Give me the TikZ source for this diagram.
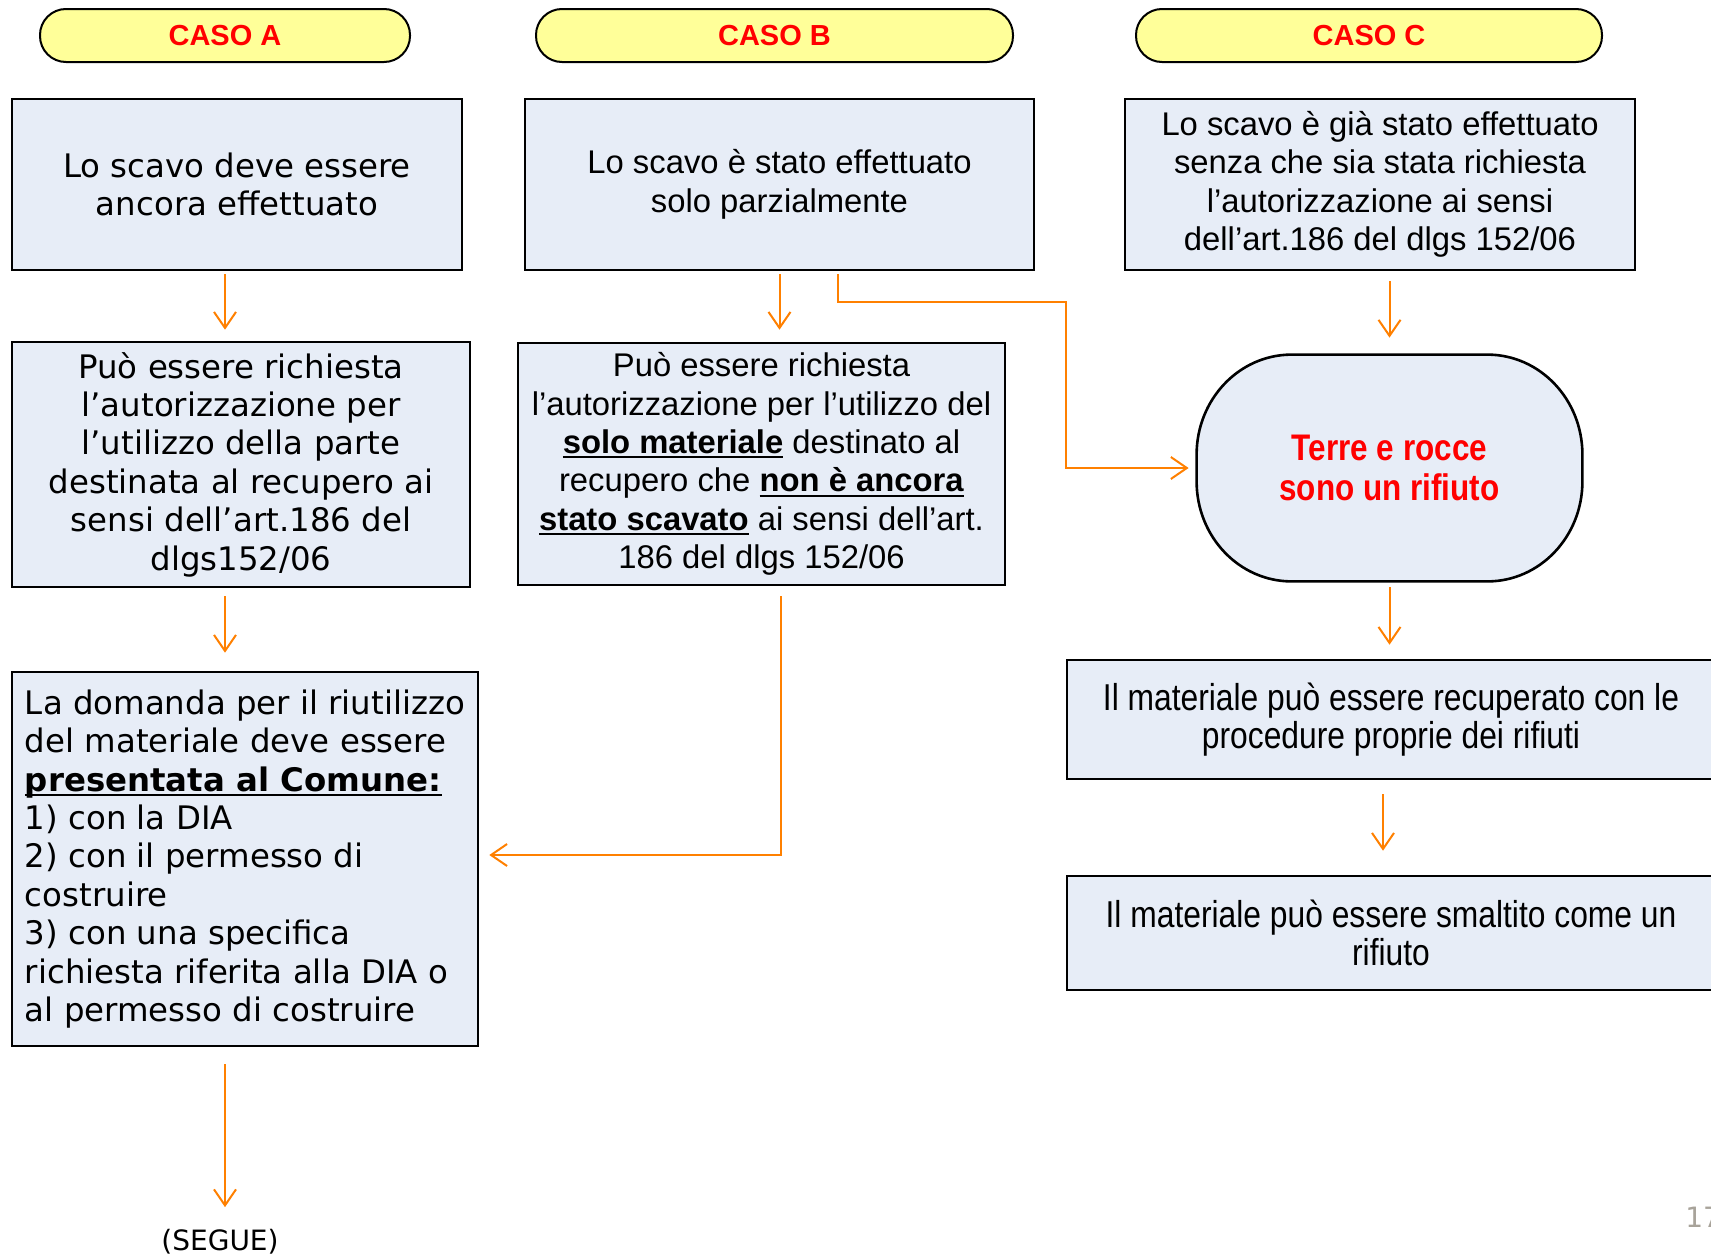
\documentclass[tikz,border=0pt]{standalone}
\usepackage{fontspec}
\usepackage{xcolor}
\usepackage{tikz}
\usetikzlibrary{arrows.meta}
\setmainfont{Liberation Sans}
\newfontfamily\verdana{DejaVu Sans}
\newfontfamily\stretto[FakeStretch=0.85]{Liberation Sans}
\definecolor{azzurrino}{RGB}{231,237,247}
\definecolor{giallino}{RGB}{255,255,153}
\definecolor{arancio}{RGB}{255,128,0}
\definecolor{grigio}{RGB}{168,163,154}
\newsavebox{\sottbox}
\newcommand{\sott}[1]{\leavevmode\sbox{\sottbox}{\textbf{#1}}\rlap{\rule[-2.4pt]{\wd\sottbox}{1pt}}\usebox{\sottbox}}
\tikzset{
  casella/.style = {draw=black, line width=1.3pt, fill=azzurrino, inner sep=0pt,
    align=center, font=\fontsize{16.4}{19.2}\selectfont},% casella di testo
  casA/.style = {casella, font=\verdana\fontsize{16.2}{19.2}\selectfont},% colonna A, testo largo
  casC/.style = {casella, font=\stretto\fontsize{18.7}{19.2}\selectfont},% colonna C, testo stretto
  caso/.style = {draw=black, line width=1pt, fill=giallino, rounded corners=13pt,
    minimum height=26.5pt, inner sep=0pt, text=red,
    font=\bfseries\fontsize{14.5}{17}\selectfont},% intestazione del caso
  terminale/.style = {minimum width=192.5pt, minimum height=113pt, inner sep=0pt},% rifiuto
  freccia/.style = {draw=arancio, line width=1pt, -{Straight Barb[length=8pt,width=11pt]}}% connettore
}
\begin{document}
\begin{tikzpicture}[x=0.5pt, y=-0.5pt]
\path[use as bounding box, fill=white] (0,0) rectangle (1711,1258);
% intestazioni
\node[caso, minimum width=185pt] (casoA) at (225,35.5) {CASO A};
\node[caso, minimum width=238.5pt] (casoB) at (774.5,35.5) {CASO B};
\node[caso, minimum width=233pt] (casoC) at (1369,35.5) {CASO C};
% caso A
\node[casA, minimum width=225pt, minimum height=85.5pt] (a1) at (237,184.5)
  {Lo scavo deve essere\\ancora effettuato};
\node[casA, minimum width=229pt, minimum height=122.5pt] (a2) at (241,464.5)
  {Può essere richiesta\\l’autorizzazione per\\l’utilizzo della parte\\destinata al recupero ai\\sensi dell’art.186 del\\dlgs152/06};
\node[casA, minimum width=233pt, minimum height=187pt, align=left] (a3) at (245,859)
  {La domanda per il riutilizzo\hspace{5pt}\\del materiale deve essere\\\sott{presentata al Comune:}\\1) con la DIA\\2) con il permesso di\\costruire\\3) con una specifica\\richiesta riferita alla DIA o\\al permesso di costruire};
\node[font=\verdana\fontsize{14}{16}\selectfont, inner sep=0pt] (segue) at (220,1242) {(SEGUE)};
% caso B
\node[casella, minimum width=254.5pt, minimum height=85.5pt] (b1) at (779.5,184.5)
  {Lo scavo è stato effettuato\\solo parzialmente};
\node[casella, minimum width=243.5pt, minimum height=121pt] (b2) at (761.5,464)
  {Può essere richiesta\\l’autorizzazione per l’utilizzo del\\\sott{solo materiale} destinato al\\recupero che \sott{non è ancora}\\\sott{stato scavato} ai sensi dell’art.\\186 del dlgs 152/06};
% caso C
\node[casella, minimum width=255pt, minimum height=85.5pt] (c1) at (1380,184.5)
  {Lo scavo è già stato effettuato\\senza che sia stata richiesta\\l’autorizzazione ai sensi\\dell’art.186 del dlgs 152/06};
\node[terminale] (c2) at (1389.5,468) {};
\draw[line width=1.3pt, fill=azzurrino] ([xshift=47.5pt]c2.north west)
  -- ([xshift=-47.5pt]c2.north east) arc[start angle=90, end angle=0, x radius=47.5pt, y radius=50pt]
  -- ([yshift=50pt]c2.south east) arc[start angle=0, end angle=-90, x radius=47.5pt, y radius=50pt]
  -- ([xshift=47.5pt]c2.south west) arc[start angle=270, end angle=180, x radius=47.5pt, y radius=50pt]
  -- ([yshift=-50pt]c2.north west) arc[start angle=180, end angle=90, x radius=47.5pt, y radius=50pt]
  -- cycle;
\node[align=center, text=red, font=\stretto\bfseries\fontsize{18.5}{19.6}\selectfont] (c2testo) at (c2)
  {Terre e rocce\\sono un rifiuto};
\node[casC, minimum width=324pt, minimum height=59.5pt] (c3) at (1391,719.5)
  {Il materiale può essere recuperato con le\\procedure proprie dei rifiuti};
\node[casC, minimum width=324pt, minimum height=57pt] (c4) at (1391,933)
  {Il materiale può essere smaltito come un\\rifiuto};
\node[anchor=west, text=grigio, font=\verdana\fontsize{14}{16}\selectfont, inner sep=0pt] (pagina) at (1685,1217) {17};
% connettori
\coordinate (gomito) at (1066,302);
\draw[freccia, shorten <=1.5pt, shorten >=5.5pt] (a1.south -| casoA.south) -- (a2.north -| casoA.south);
\draw[freccia, shorten <=4pt, shorten >=9pt] (a2.south -| casoA.south) -- (a3.north -| casoA.south);
\draw[freccia, shorten <=8.5pt, shorten >=11pt] (a3.south -| casoA.south) -- (segue.north -| casoA.south);
\draw[freccia, shorten <=1.5pt, shorten >=6pt] (b1.south) -- (b2.north -| b1.south);
\draw[freccia, shorten <=1.5pt, shorten >=4pt] ([xshift=29.25pt]b1.south) |- (gomito) |- (c2.west);
\draw[freccia, shorten <=5pt, shorten >=5pt] ([xshift=9.75pt]b2.south) |- ([yshift=2pt]a3.east);
\draw[freccia, shorten <=5pt, shorten >=8.5pt] (c1.south -| c2.north) -- (c2.north);
\draw[freccia, shorten <=3pt, shorten >=7pt] (c2.south) -- (c3.north -| c2.south);
\draw[freccia, shorten <=7pt, shorten >=12pt] ([xshift=-4pt]c3.south) -- ([xshift=-4pt]c4.north);
\end{tikzpicture}
\end{document}
